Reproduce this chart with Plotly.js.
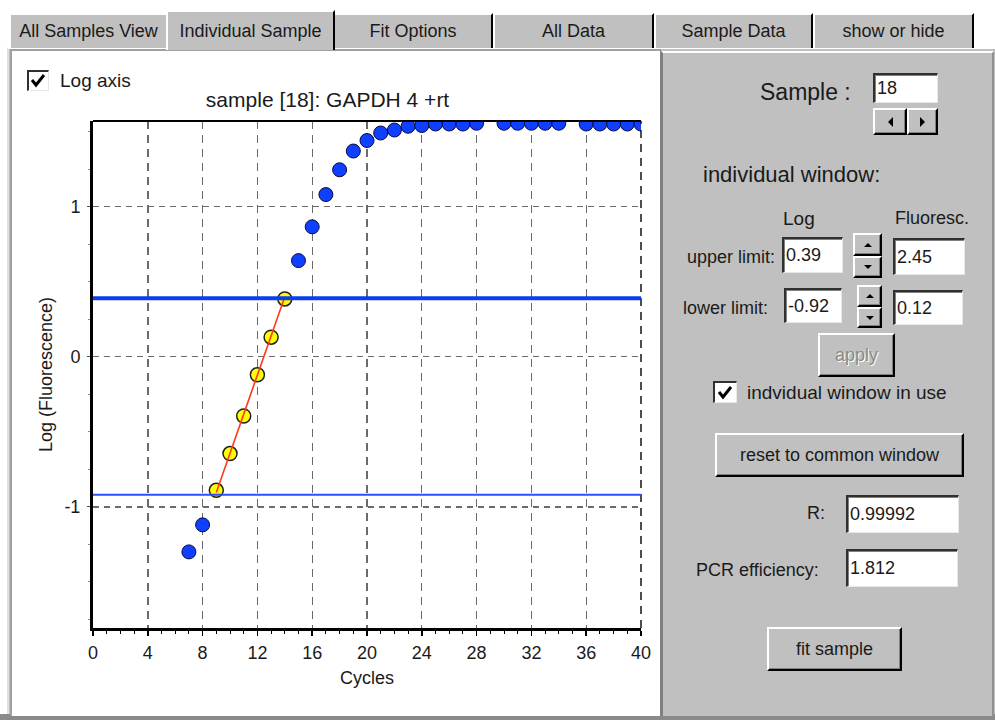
<!DOCTYPE html>
<html>
<head>
<meta charset="utf-8">
<script src="https://cdn.plot.ly/plotly-3.0.1.min.js"></script>
<style>
  html, body { margin:0; padding:0; background:#ffffff; width:995px; height:720px; overflow:hidden;
    font-family:"Liberation Sans", Arial, sans-serif; color:#1a1a1a; }
  .abs { position:absolute; box-sizing:border-box; }
  .tab { position:absolute; box-sizing:border-box; background:#c0c0c0; border-top:2px solid #fff; border-left:2px solid #fff;
    border-right:2px solid #000; display:flex; align-items:center; justify-content:center; font-size:18px; white-space:nowrap; }
  .btn { position:absolute; box-sizing:border-box; background:#c0c0c0; border-top:2px solid #fff; border-left:2px solid #fff;
    border-right:2px solid #000; border-bottom:2px solid #000; box-shadow: inset -1px -1px 0 #808080;
    display:flex; align-items:center; justify-content:center; font-size:18px; white-space:nowrap; }
  .inp { position:absolute; box-sizing:border-box; background:#fff; border-top:2px solid #303030; border-left:2px solid #303030;
    border-right:1px solid #e8e8e8; border-bottom:1px solid #e8e8e8; box-shadow: inset 1px 1px 0 #808080;
    font-size:18px; padding-left:2px; display:flex; align-items:center; white-space:nowrap; }
  .lbl { position:absolute; white-space:nowrap; line-height:1; transform:translateY(-50%); }
  .chk { position:absolute; box-sizing:border-box; background:#fff; border-top:2px solid #303030; border-left:2px solid #303030;
    border-right:1px solid #e8e8e8; border-bottom:1px solid #e8e8e8; }
  .tri-up { width:0; height:0; border-left:4px solid transparent; border-right:4px solid transparent; border-bottom:4px solid #000; }
  .tri-dn { width:0; height:0; border-left:4px solid transparent; border-right:4px solid transparent; border-top:4px solid #000; }
  .tri-lt { width:0; height:0; border-top:5px solid transparent; border-bottom:5px solid transparent; border-right:5px solid #000; }
  .tri-rt { width:0; height:0; border-top:5px solid transparent; border-bottom:5px solid transparent; border-left:5px solid #000; }
</style>
</head>
<body>
<!-- tab control body -->
<div class="abs" style="left:7px; top:47px; width:988px; height:673px; background:#c0c0c0; border-top:2px solid #fff; border-left:2px solid #e0e0e0;"></div>
<div class="abs" style="left:0; top:714px; width:995px; height:6px; background:#8a8a8a;"></div>

<!-- tabs -->
<div class="tab" style="left:9px; top:13px; width:159px; height:35px;">All Samples View</div>
<div class="tab" style="left:333px; top:13px; width:160px; height:35px;">Fit Options</div>
<div class="tab" style="left:493px; top:13px; width:161px; height:35px;">All Data</div>
<div class="tab" style="left:654px; top:13px; width:159px; height:35px;">Sample Data</div>
<div class="tab" style="left:813px; top:13px; width:161px; height:35px;">show or hide</div>
<div class="tab" style="left:166px; top:10px; width:169px; height:40px; z-index:2;">Individual Sample</div>

<!-- left white panel -->
<div class="abs" style="left:10px; top:49px; width:651px; height:667px; background:#fff; border-top:2px solid #a0a0a0; border-left:2px solid #a0a0a0; border-right:1px solid #808080;"></div>
<!-- right gray panel -->
<div class="abs" style="left:661px; top:51px; width:333px; height:665px; background:#c0c0c0; border-top:2px solid #fff; border-left:2px solid #808080; border-right:2px solid #909090;"></div>

<div id="chart" class="abs" style="left:12px; top:50px; width:648px; height:665px;"></div>

<!-- Log axis checkbox -->
<div class="chk" style="left:27px; top:70px; width:22px; height:21px; z-index:5;">
  <svg width="19" height="18" viewBox="0 0 19 18" style="position:absolute;left:0;top:0"><path d="M3 8 L7 13 L15 3" stroke="#000" stroke-width="3" fill="none"/></svg>
</div>
<div class="lbl" style="left:60px; top:80px; font-size:19px; z-index:5;">Log axis</div>

<!-- right panel controls -->
<div class="lbl" style="left:760px; top:92px; font-size:23px;">Sample :</div>
<div class="inp" style="left:873px; top:73px; width:65px; height:30px; align-items:flex-start; padding-top:3px;">18</div>
<div class="btn" style="left:873px; top:108px; width:34px; height:27px;"><div class="tri-lt"></div></div>
<div class="btn" style="left:907px; top:108px; width:31px; height:27px;"><div class="tri-rt"></div></div>

<div class="lbl" style="left:703px; top:175px; font-size:22px;">individual window:</div>
<div class="lbl" style="left:783px; top:218px; font-size:19px;">Log</div>
<div class="lbl" style="left:895px; top:218px; font-size:18px;">Fluoresc.</div>

<div class="lbl" style="left:687px; top:257px; font-size:18px;">upper limit:</div>
<div class="inp" style="left:782px; top:237px; width:61px; height:36px;">0.39</div>
<div class="btn" style="left:853px; top:233px; width:29px; height:23px;"><div class="tri-up"></div></div>
<div class="btn" style="left:853px; top:256px; width:29px; height:22px;"><div class="tri-dn"></div></div>
<div class="inp" style="left:893px; top:238px; width:72px; height:37px;">2.45</div>

<div class="lbl" style="left:683px; top:308px; font-size:18px;">lower limit:</div>
<div class="inp" style="left:784px; top:288px; width:58px; height:35px;">-0.92</div>
<div class="btn" style="left:857px; top:285px; width:25px; height:22px;"><div class="tri-up"></div></div>
<div class="btn" style="left:857px; top:307px; width:25px; height:21px;"><div class="tri-dn"></div></div>
<div class="inp" style="left:893px; top:290px; width:70px; height:35px;">0.12</div>

<div class="btn" style="left:818px; top:333px; width:77px; height:44px; color:#8a8a8a; text-shadow:1px 1px 0 #fff;">apply</div>

<div class="chk" style="left:713px; top:381px; width:24px; height:22px;">
  <svg width="21" height="19" viewBox="0 0 21 19" style="position:absolute;left:0;top:0"><path d="M4 9 L8 14 L16 4" stroke="#000" stroke-width="3" fill="none"/></svg>
</div>
<div class="lbl" style="left:747px; top:392px; font-size:19px;">indvidual window in use</div>

<div class="btn" style="left:715px; top:433px; width:249px; height:44px;">reset to common window</div>

<div class="lbl" style="left:807px; top:513px; font-size:18px;">R:</div>
<div class="inp" style="left:846px; top:495px; width:113px; height:38px;">0.99992</div>
<div class="lbl" style="left:696px; top:570px; font-size:18px;">PCR efficiency:</div>
<div class="inp" style="left:846px; top:549px; width:112px; height:38px;">1.812</div>

<div class="btn" style="left:767px; top:627px; width:135px; height:44px;">fit sample</div>

<script>
// ---- data ----
const blueCycles = [7, 8, 15, 16, 17, 18, 19, 20, 21, 22, 23, 24, 25, 26, 27, 28, 30, 31, 32, 33, 34, 36, 37, 38, 39, 40];
const blueLogF   = [-1.30, -1.12, 0.64, 0.865, 1.08, 1.245, 1.37, 1.44, 1.49, 1.51, 1.535, 1.54, 1.55, 1.55, 1.55, 1.555,
                    1.555, 1.555, 1.555, 1.555, 1.555, 1.55, 1.55, 1.55, 1.55, 1.55];
const fitCycles  = [9, 10, 11, 12, 13, 14];
const fitLogF    = [-0.89, -0.645, -0.395, -0.12, 0.13, 0.385];
const fitLineCycles = [9, 14];
const fitLineLogF   = [-0.905, 0.40];
const upperLimit = 0.39;
const lowerLimit = -0.92;
const xTickVals = [0, 4, 8, 12, 16, 20, 24, 28, 32, 36, 40];
const yTickVals = [-1, 0, 1];
const yTickText = ['-1', '0', '1'];
const chartTitle = 'sample [18]: GAPDH 4 +rt';

const font = '"Liberation Sans", Arial, sans-serif';

const traces = [
  { x: blueCycles, y: blueLogF, type: 'scatter', mode: 'markers', cliponaxis: true,
    marker: { color: '#1040ff', size: 14, line: { color: '#0a0a40', width: 1 } }, hoverinfo: 'skip' },
  { x: fitCycles, y: fitLogF, type: 'scatter', mode: 'markers', cliponaxis: true,
    marker: { color: '#ffff00', size: 14, line: { color: '#202020', width: 1.5 } }, hoverinfo: 'skip' },
  { x: fitLineCycles, y: fitLineLogF, type: 'scatter', mode: 'lines',
    line: { color: '#ff3a1a', width: 1.6 }, hoverinfo: 'skip' }
];

const gridDashX = '8px,6px';
const layout = {
  width: 648, height: 665,
  margin: { l: 81, r: 19, t: 71, b: 87 },
  paper_bgcolor: 'rgba(0,0,0,0)', plot_bgcolor: '#ffffff',
  showlegend: false,
  font: { family: font, color: '#1a1a1a', size: 18 },
  title: { text: chartTitle, x: 0.428, xref: 'paper', xanchor: 'center', y: 0.925, yref: 'container', yanchor: 'middle',
           font: { family: font, size: 21, color: '#1a1a1a' } },
  xaxis: {
    range: [0, 40], tickmode: 'array', tickvals: xTickVals,
    showline: true, linecolor: '#000', linewidth: 3,
    ticks: 'outside', ticklen: 5, tickwidth: 1.5, tickcolor: '#000',
    minor: { dtick: 1, tick0: 0, ticks: 'outside', ticklen: 3, tickwidth: 1, tickcolor: '#000', showgrid: false },
    showgrid: true, gridcolor: '#6a6a6a', gridwidth: 1.4, griddash: gridDashX,
    zeroline: false, tickfont: { size: 18, family: font, color: '#1a1a1a' },
    ticklabelstandoff: 1,
    title: { text: 'Cycles', font: { size: 18, family: font, color: '#1a1a1a' }, standoff: 10 }
  },
  yaxis: {
    range: [-1.807, 1.57], tickmode: 'array', tickvals: yTickVals, ticktext: yTickText,
    showline: true, linecolor: '#000', linewidth: 3,
    ticks: 'outside', ticklen: 3, tickwidth: 1, tickcolor: '#555',
    minor: { dtick: 0.25, tick0: 0, ticks: 'outside', ticklen: 2, tickwidth: 1, tickcolor: '#888', showgrid: false },
    showgrid: true, gridcolor: '#6a6a6a', gridwidth: 1.4, griddash: '6px,5px',
    zeroline: false, tickfont: { size: 18, family: font, color: '#1a1a1a' },
    ticklabelstandoff: 3,
    title: { text: 'Log (Fluorescence)', font: { size: 18, family: font, color: '#1a1a1a' }, standoff: 8 }
  },
  shapes: [
    { type: 'line', xref: 'paper', yref: 'paper', x0: 0, x1: 1, y0: 1, y1: 1, line: { color: '#000', width: 2 } },
    { type: 'line', xref: 'paper', yref: 'paper', x0: 1, x1: 1, y0: 0, y1: 1, line: { color: '#222', width: 1.6, dash: gridDashX } },
    { type: 'line', xref: 'paper', yref: 'y', x0: 0, x1: 1, y0: upperLimit, y1: upperLimit, line: { color: '#0a3cf0', width: 4 } },
    { type: 'line', xref: 'paper', yref: 'y', x0: 0, x1: 1, y0: lowerLimit, y1: lowerLimit, line: { color: '#2a50ff', width: 2 } }
  ]
};

Plotly.newPlot('chart', traces, layout, { displayModeBar: false, staticPlot: true });
</script>
</body>
</html>
